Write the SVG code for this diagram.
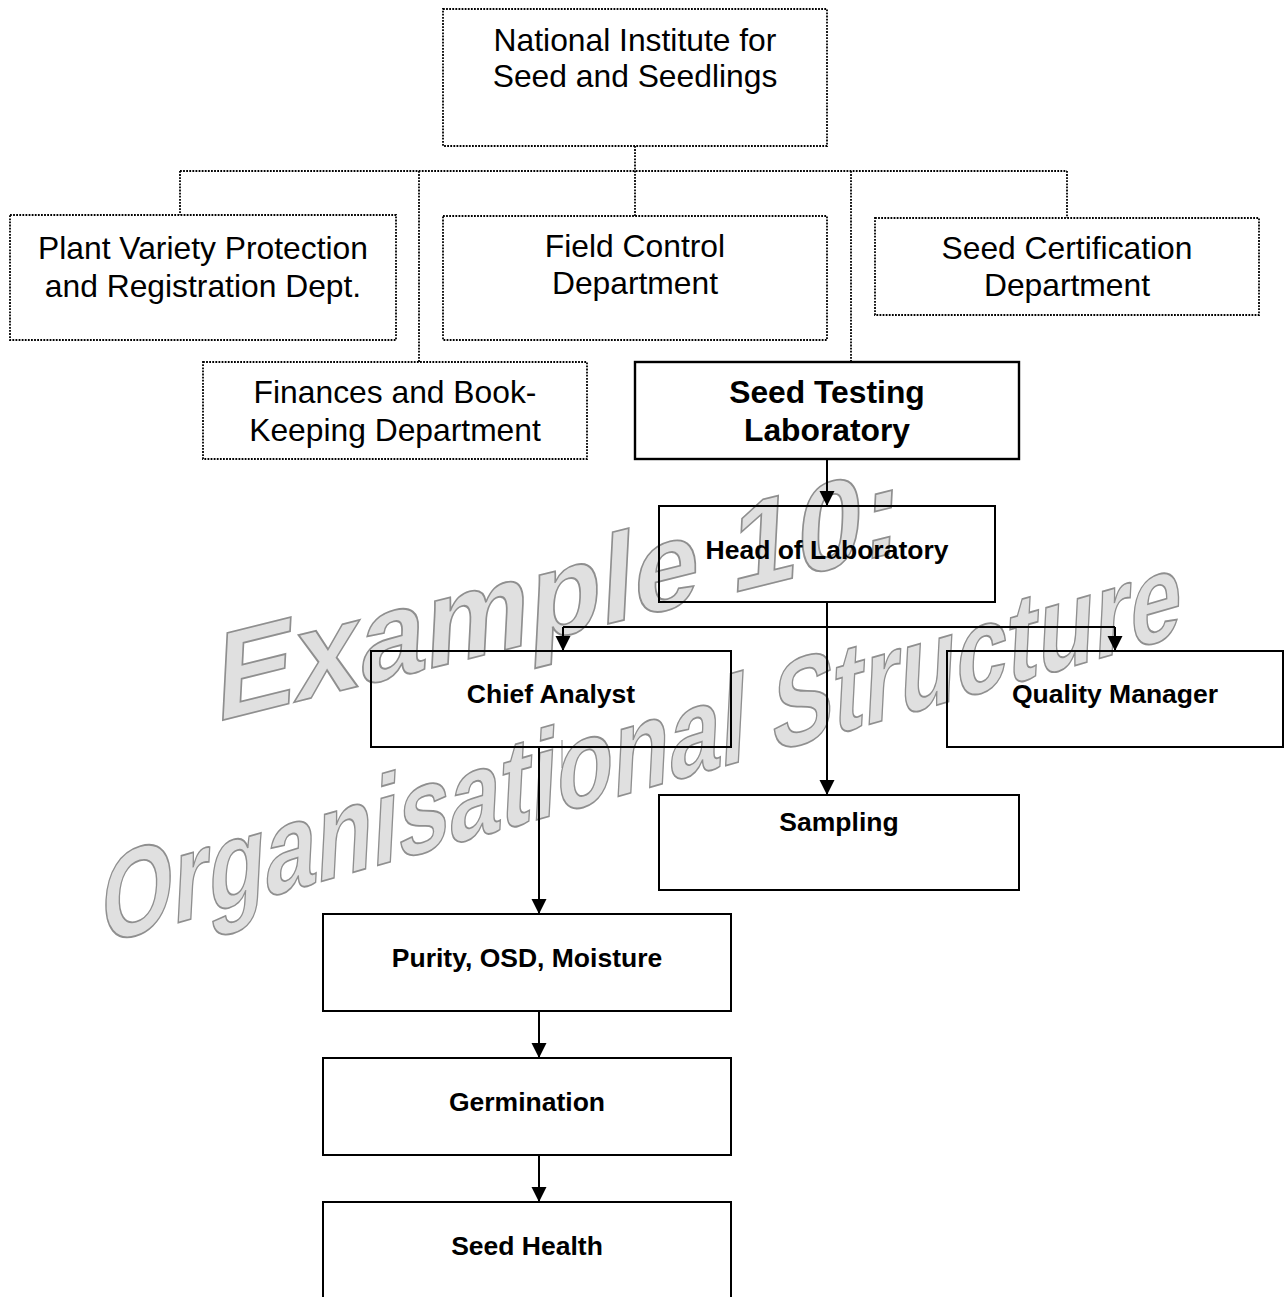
<svg xmlns="http://www.w3.org/2000/svg" width="1285" height="1297" viewBox="0 0 1285 1297">
  <style>
    .dept { fill: none; stroke: #000; stroke-width: 1.8; stroke-dasharray: 1.8 1.3; }
    .unit { fill: none; stroke: #000; stroke-width: 2; }
    .main { fill: none; stroke: #000; stroke-width: 2.4; }
    .lbl { font-family: "Liberation Sans", Arial, sans-serif; font-size: 31.8px; fill: #000; text-anchor: middle; }
    .bold { font-weight: bold; }
    .sm { font-family: "Liberation Sans", Arial, sans-serif; font-size: 26.5px; font-weight: bold; fill: #000; text-anchor: middle; }
    .dot { fill: none; stroke: #000; stroke-width: 1.8; stroke-dasharray: 1.8 1.3; }
    .link { fill: none; stroke: #000; stroke-width: 2; }
    .wm { font-family: "Liberation Sans", Arial, sans-serif; font-size: 125px; font-weight: bold; fill: #e0e0e0; stroke: #8f8f8f; stroke-width: 1.8; }
  </style>
  <defs>
    <marker id="arrow" markerUnits="userSpaceOnUse" markerWidth="16" markerHeight="16" refX="15" refY="7.5" orient="auto">
      <path d="M0,0 L15,7.5 L0,15 z" fill="#000"/>
    </marker>
  </defs>
  <rect width="1285" height="1297" fill="#fff"/>

  <!-- watermark lettering behind the chart -->
  <g id="watermark" class="wm">
    <text transform="translate(215,722) skewY(-14) skewX(-3)" textLength="685" lengthAdjust="spacingAndGlyphs">Example 10:</text>
    <text transform="translate(100,945) skewY(-16) skewX(-3)" textLength="1080" lengthAdjust="spacingAndGlyphs">Organisational Structure</text>
  </g>

  <!-- connectors -->
  <g id="connectors">
    <path class="dot" d="M635,146 V216"/>
    <path class="dot" d="M180,171 H1067"/>
    <path class="dot" d="M180,171 V215"/>
    <path class="dot" d="M419,171 V362"/>
    <path class="dot" d="M851,171 V362"/>
    <path class="dot" d="M1067,171 V218"/>
    <path class="link" d="M827,459 V506" marker-end="url(#arrow)"/>
    <path class="link" d="M827,602 V795" marker-end="url(#arrow)"/>
    <path class="link" d="M563,627 H1115"/>
    <path class="link" d="M563,627 V651" marker-end="url(#arrow)"/>
    <path class="link" d="M1115,627 V651" marker-end="url(#arrow)"/>
    <path class="link" d="M539,747 V914" marker-end="url(#arrow)"/>
    <path class="link" d="M539,1011 V1058" marker-end="url(#arrow)"/>
    <path class="link" d="M539,1155 V1202" marker-end="url(#arrow)"/>
    <path d="M562,740 V768" stroke="#888" stroke-width="1" fill="none"/>
  </g>

  <g id="national-institute">
    <rect class="dept" x="443" y="9" width="384" height="137"/>
    <text class="lbl" x="635" y="51">National Institute for</text>
    <text class="lbl" x="635" y="87">Seed and Seedlings</text>
  </g>
  <g id="plant-variety">
    <rect class="dept" x="10" y="215" width="386" height="125"/>
    <text class="lbl" x="203" y="259">Plant Variety Protection</text>
    <text class="lbl" x="203" y="297">and Registration Dept.</text>
  </g>
  <g id="field-control">
    <rect class="dept" x="443" y="216" width="384" height="124"/>
    <text class="lbl" x="635" y="257">Field Control</text>
    <text class="lbl" x="635" y="294">Department</text>
  </g>
  <g id="seed-certification">
    <rect class="dept" x="875" y="218" width="384" height="97"/>
    <text class="lbl" x="1067" y="259">Seed Certification</text>
    <text class="lbl" x="1067" y="296">Department</text>
  </g>
  <g id="finances">
    <rect class="dept" x="203" y="362" width="384" height="97"/>
    <text class="lbl" x="395" y="403">Finances and Book-</text>
    <text class="lbl" x="395" y="441">Keeping Department</text>
  </g>
  <g id="seed-testing-lab">
    <rect class="main" x="635" y="362" width="384" height="97"/>
    <text class="lbl bold" x="827" y="403">Seed Testing</text>
    <text class="lbl bold" x="827" y="441">Laboratory</text>
  </g>
  <g id="head-of-lab">
    <rect class="unit" x="659" y="506" width="336" height="96"/>
    <text class="sm" x="827" y="559">Head of Laboratory</text>
  </g>
  <g id="chief-analyst">
    <rect class="unit" x="371" y="651" width="360" height="96"/>
    <text class="sm" x="551" y="703">Chief Analyst</text>
  </g>
  <g id="quality-manager">
    <rect class="unit" x="947" y="651" width="336" height="96"/>
    <text class="sm" x="1115" y="703">Quality Manager</text>
  </g>
  <g id="sampling">
    <rect class="unit" x="659" y="795" width="360" height="95"/>
    <text class="sm" x="839" y="831">Sampling</text>
  </g>
  <g id="purity">
    <rect class="unit" x="323" y="914" width="408" height="97"/>
    <text class="sm" x="527" y="967">Purity, OSD, Moisture</text>
  </g>
  <g id="germination">
    <rect class="unit" x="323" y="1058" width="408" height="97"/>
    <text class="sm" x="527" y="1111">Germination</text>
  </g>
  <g id="seed-health">
    <rect class="unit" x="323" y="1202" width="408" height="110"/>
    <text class="sm" x="527" y="1255">Seed Health</text>
  </g>
</svg>
